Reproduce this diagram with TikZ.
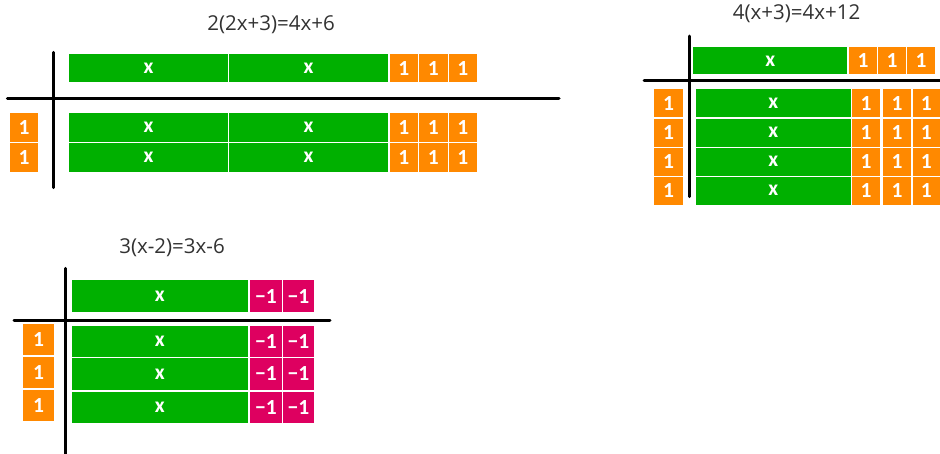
\documentclass[tikz,border=0pt]{standalone}
\usepackage{fontspec}
\setmainfont{Open Sans}
\newfontfamily\tilefont{Carlito}
\definecolor{tgreen}{RGB}{0,176,0}
\definecolor{torange}{RGB}{255,137,0}
\definecolor{tmag}{RGB}{222,0,96}
\definecolor{ttext}{RGB}{50,50,50}
\begin{document}
\begin{tikzpicture}[x=1pt,y=-1pt,
  tile/.style={anchor=north west, inner sep=0pt, outer sep=0pt, text=white,
    font=\tilefont\bfseries\fontsize{21.5}{21.5}\selectfont},
  sz/.style 2 args={minimum width=#1, minimum height=#2},
  xt/.style={tile, fill=tgreen},
  ot/.style={tile, fill=torange},
  mt/.style={tile, fill=tmag},
  axisline/.style={line width=3pt, line cap=round, black},
  title/.style={font=\fontsize{20.5}{20.5}\selectfont, text=ttext}]
\useasboundingbox (0,0) rectangle (940,453);

% ---------- Diagram 1: 2(2x+3)=4x+6 ----------
\node[title] (t1) at (271,25) {2(2x+3)=4x+6};
\foreach \r/\y/\h in {0/54/28.3, 1/113.3/28.4, 2/142.7/29}{
  \node[xt, sz={159pt}{\h pt}] (a\r x1) at (69,\y) {x};
  \node[xt, sz={159.3pt}{\h pt}] (a\r x2) at (229,\y) {x};
  \node[ot, sz={28.8pt}{\h pt}] (a\r o1) at (389.5,\y) {1};
  \node[ot, sz={28.8pt}{\h pt}] (a\r o2) at (419,\y) {1};
  \node[ot, sz={28.8pt}{\h pt}] (a\r o3) at (448.5,\y) {1};
}
\node[ot, sz={28.3pt}{28.4pt}] (al1) at (10,113.3) {1};
\node[ot, sz={28.3pt}{29pt}] (al2) at (10,142.7) {1};
\coordinate (av1) at (53.3,52.3);
\coordinate (av2) at (53.3,187.7);
\coordinate (ah1) at (7.3,98);
\coordinate (ah2) at (559,98);
\draw[axisline] (av1) -- (av2);
\draw[axisline] (ah1) -- (ah2);

% ---------- Diagram 2: 4(x+3)=4x+12 ----------
\node[title] (t2) at (796.5,14) {4(x+3)=4x+12};
\node[xt, sz={154pt}{27pt}] (b0x) at (693.3,47.3) {x};
\node[ot, sz={27.3pt}{27pt}] (b0o1) at (849.3,47.3) {1};
\node[ot, sz={27.3pt}{27pt}] (b0o2) at (878.3,47.3) {1};
\node[ot, sz={27.3pt}{27pt}] (b0o3) at (907.3,47.3) {1};
\foreach \r/\y in {1/89.3, 2/118.7, 3/147.7, 4/176.7}{
  \node[ot, sz={28.4pt}{28pt}] (bl\r) at (654.3,\y) {1};
  \node[xt, sz={155pt}{28pt}] (b\r x) at (695.7,\y) {x};
  \node[ot, sz={28pt}{28pt}] (b\r o1) at (852,\y) {1};
  \node[ot, sz={27.7pt}{28pt}] (b\r o2) at (883.3,\y) {1};
  \node[ot, sz={27.3pt}{28pt}] (b\r o3) at (912.7,\y) {1};
}
\coordinate (bv1) at (689.3,36);
\coordinate (bv2) at (689.3,196.7);
\coordinate (bh1) at (644,80.7);
\coordinate (bh2) at (942,80.7);
\draw[axisline] (bv1) -- (bv2);
\draw[axisline] (bh1) -- (bh2);

% ---------- Diagram 3: 3(x-2)=3x-6 ----------
\node[title] (t3) at (172,248) {3(x-2)=3x-6};
\node[xt, sz={176pt}{31.7pt}] (c0x) at (71.7,280.3) {x};
\node[mt, sz={31.7pt}{31.7pt}] (c0m1) at (250,280.3) {−1};
\node[mt, sz={31.6pt}{31.7pt}] (c0m2) at (282.7,280.3) {−1};
\foreach \r/\y/\ly in {1/325.7/324, 2/358.3/356.7, 3/391.7/390}{
  \node[ot, sz={31.6pt}{31pt}] (cl\r) at (22.7,\ly) {1};
  \node[xt, sz={176pt}{31.2pt}] (c\r x) at (71.7,\y) {x};
  \node[mt, sz={31.7pt}{31.2pt}] (c\r m1) at (250,\y) {−1};
  \node[mt, sz={31.6pt}{31.2pt}] (c\r m2) at (282.7,\y) {−1};
}
\coordinate (cv1) at (65,268.3);
\coordinate (cv2) at (65,455);
\coordinate (ch1) at (14,320);
\coordinate (ch2) at (330,320);
\draw[axisline] (cv1) -- (cv2);
\draw[axisline] (ch1) -- (ch2);
\end{tikzpicture}
\end{document}
